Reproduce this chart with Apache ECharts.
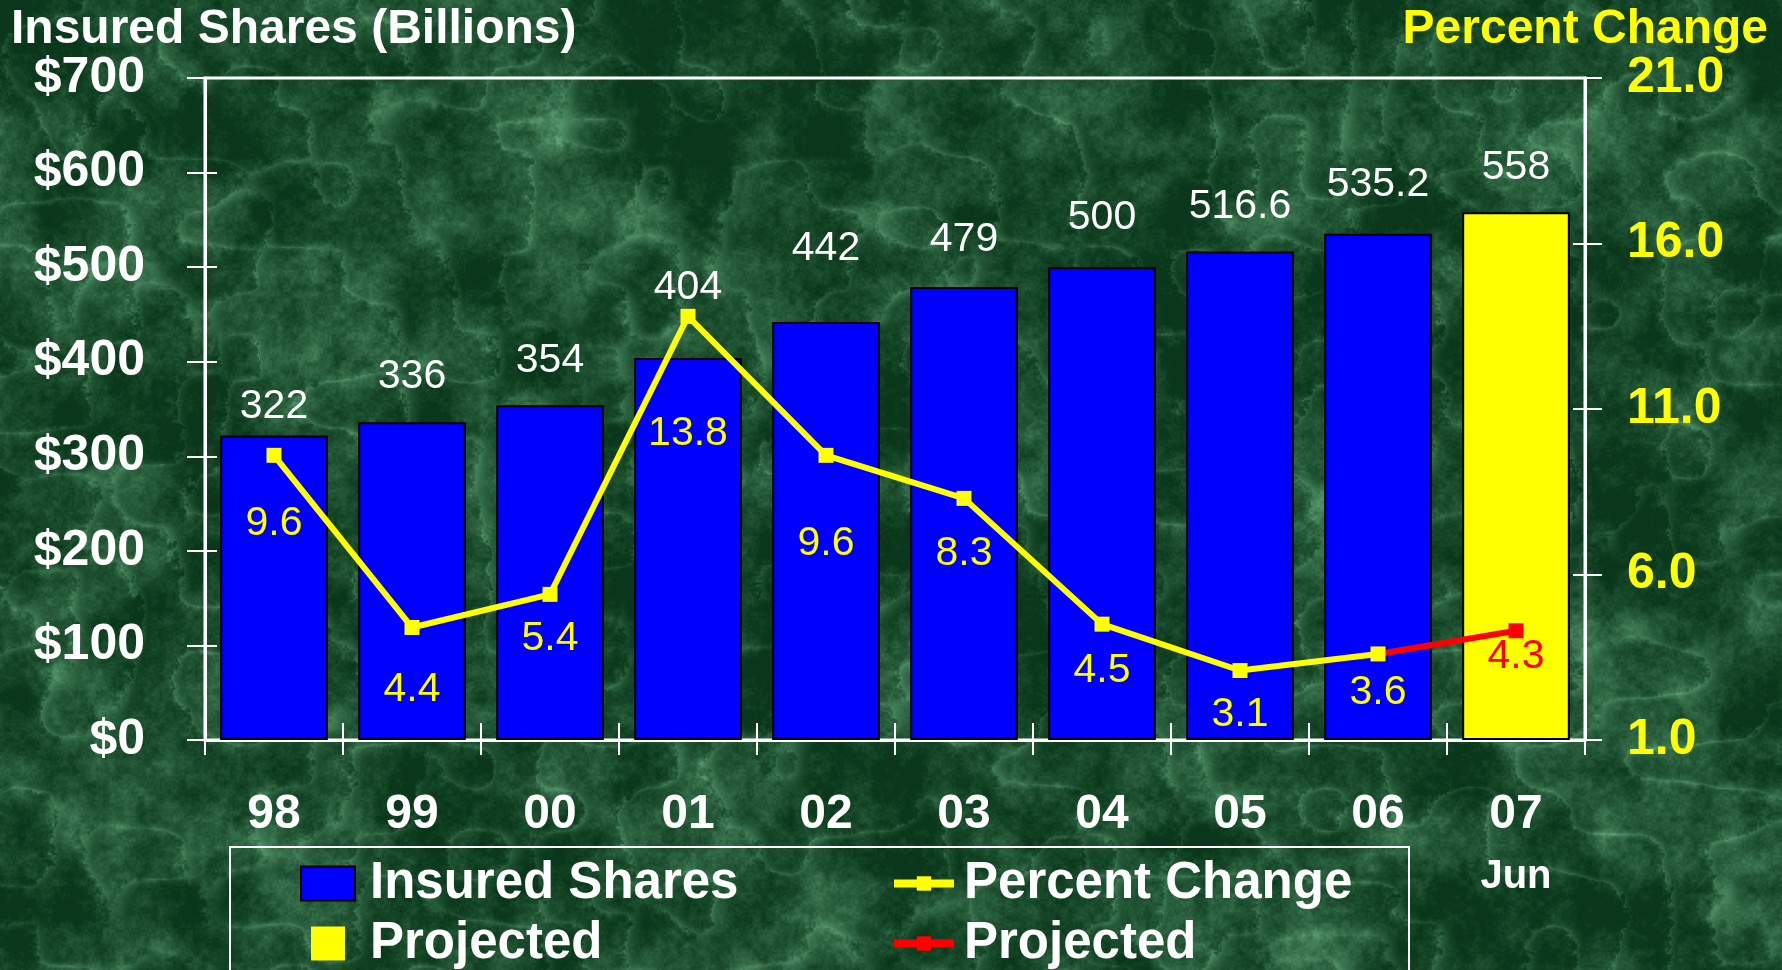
<!DOCTYPE html>
<html>
<head>
<meta charset="utf-8">
<title>Insured Shares</title>
<script src="https://cdn.jsdelivr.net/npm/echarts@6/dist/echarts.min.js"></script>
<style>
  html, body { margin: 0; padding: 0; background: #1f5a35; }
  #chart { width: 1782px; height: 970px; background-size: 100% 100%; }
</style>
</head>
<body>
<div id="chart"></div>
<script>
// chart data
const categories = ['98', '99', '00', '01', '02', '03', '04', '05', '06', '07'];
const categoryNotes = ['', '', '', '', '', '', '', '', '', 'Jun'];
const insuredShares = [322, 336, 354, 404, 442, 479, 500, 516.6, 535.2, null];
const projectedShares = [null, null, null, null, null, null, null, null, null, 558];
const percentChange = [9.6, 4.4, 5.4, 13.8, 9.6, 8.3, 4.5, 3.1, 3.6, null];
const projectedChange = [null, null, null, null, null, null, null, null, 3.6, 4.3];
const percentTicks = [1, 6, 11, 16, 21];

// label placement tweaks (px): bar labels above the bar top, percent labels below the point
const barLabelRise = [29, 46, 45, 70, 73, 47, 49, 45, 49, 45];
const pctLabelDrop = [68, 62, 44, 117, 88, 55, 47, 44, 39, 26];

const FONT = '"Liberation Sans", Arial, Helvetica, sans-serif';
const WHITE = '#ffffff';
const YELLOW = '#ffff00';

// green marble-ish backdrop, drawn once into a canvas
function marble(w, h) {
    const c = document.createElement('canvas');
    c.width = w; c.height = h;
    const ctx = c.getContext('2d');
    const img = ctx.createImageData(w, h);
    const hash = (x, y, s) => {
        let n = Math.imul(x, 374761393) ^ Math.imul(y, 668265263) ^ Math.imul(s, 1442695041);
        n = Math.imul(n ^ (n >>> 13), 1274126177);
        return ((n ^ (n >>> 16)) >>> 0) / 4294967296;
    };
    const noise = (x, y, s) => {
        const xi = Math.floor(x), yi = Math.floor(y);
        const fx = x - xi, fy = y - yi;
        const u = fx * fx * (3 - 2 * fx), v = fy * fy * (3 - 2 * fy);
        const a = hash(xi, yi, s), b = hash(xi + 1, yi, s);
        const d = hash(xi, yi + 1, s), e = hash(xi + 1, yi + 1, s);
        return a + (b - a) * u + (d - a) * v + (a - b - d + e) * u * v;
    };
    const dark = [10, 55, 27], light = [105, 175, 130];
    for (let y = 0; y < h; y++) {
        for (let x = 0; x < w; x++) {
            const n = 0.42 * noise(x / 70, y / 70, 1) + 0.26 * noise(x / 24, y / 24, 2)
                + 0.18 * noise(x / 7, y / 7, 3) + 0.14 * noise(x / 2.2, y / 2.2, 4);
            let r = 1 - Math.abs(2 * noise(x / 45 + n, y / 45, 5) - 1);
            r = Math.pow(r, 10);
            let t = (n - 0.32) * 1.15 + r * 0.3;
            t = Math.min(1, Math.max(0, t));
            t = Math.pow(t, 1.3);
            const k = (y * w + x) * 4;
            img.data[k] = dark[0] + (light[0] - dark[0]) * t;
            img.data[k + 1] = dark[1] + (light[1] - dark[1]) * t;
            img.data[k + 2] = dark[2] + (light[2] - dark[2]) * t;
            img.data[k + 3] = 255;
        }
    }
    ctx.putImageData(img, 0, 0);
    return c.toDataURL();
}

const el = document.getElementById('chart');
el.style.backgroundImage = 'url(' + marble(1782, 970) + ')';

const myChart = echarts.init(el, null, { renderer: 'canvas' });

const barLabel = {
    show: true, position: 'top', color: WHITE, fontFamily: FONT,
    fontSize: 41, lineHeight: 40
};
const tickStyle = { color: WHITE, width: 2 };

const option = {
    backgroundColor: 'transparent',
    animation: false,
    title: [
        {
            text: 'Insured Shares (Billions)', left: 11, top: 6, padding: 0,
            textStyle: { color: WHITE, fontFamily: FONT, fontSize: 48, fontWeight: 'bold', lineHeight: 48 }
        },
        {
            text: 'Percent Change', right: 14, top: 6, padding: 0,
            textStyle: { color: YELLOW, fontFamily: FONT, fontSize: 48, fontWeight: 'bold', lineHeight: 48 }
        }
    ],
    grid: {
        left: 205, right: 197, top: 78, bottom: 230,
        show: true, borderColor: WHITE, borderWidth: 3, backgroundColor: 'transparent'
    },
    legend: [
        {
            orient: 'vertical', left: 300, top: 858, padding: 0, itemGap: 9,
            itemWidth: 54, itemHeight: 34, selectedMode: false,
            formatter: name => name.indexOf('Projected') === 0 ? 'Projected' : name,
            textStyle: { color: WHITE, fontFamily: FONT, fontSize: 51, fontWeight: 'bold', lineHeight: 50, padding: [0, 0, 0, 10] },
            data: [
                { name: 'Insured Shares', icon: 'rect' },
                { name: 'Projected Shares', icon: 'path://M0,0H36V36H0Z', itemStyle: { borderWidth: 0 } }
            ]
        },
        {
            orient: 'vertical', left: 890, top: 858, padding: 0, itemGap: 9,
            itemWidth: 60, itemHeight: 18, selectedMode: false,
            lineStyle: { width: 8 },
            formatter: name => name.indexOf('Projected') === 0 ? 'Projected' : name,
            textStyle: { color: WHITE, fontFamily: FONT, fontSize: 51, fontWeight: 'bold', lineHeight: 50, padding: [0, 0, 0, 5] },
            data: ['Percent Change', 'Projected Change']
        }
    ],
    graphic: [
        {
            type: 'rect', silent: true,
            shape: { x: 230, y: 847, width: 1179, height: 200 },
            style: { fill: 'none', stroke: WHITE, lineWidth: 2 }
        }
    ],
    xAxis: [
        {
            type: 'category', data: categories, position: 'bottom',
            axisLine: { lineStyle: { color: WHITE, width: 3 } },
            axisTick: { show: true, length: 15, lineStyle: tickStyle },
            axisLabel: {
                margin: 51, interval: 0,
                formatter: (v, i) => categoryNotes[i] ? '{a|' + v + '}\n{b|' + categoryNotes[i] + '}' : '{a|' + v + '}',
                rich: {
                    a: { color: WHITE, fontFamily: FONT, fontSize: 48, fontWeight: 'bold', lineHeight: 48 },
                    b: { color: WHITE, fontFamily: FONT, fontSize: 40, fontWeight: 'bold', lineHeight: 76 }
                }
            },
            splitLine: { show: false }
        },
        {
            type: 'category', data: categories, position: 'bottom',
            axisLine: { show: false },
            axisTick: { show: true, inside: true, length: 17, lineStyle: tickStyle },
            axisLabel: { show: false },
            splitLine: { show: false }
        }
    ],
    yAxis: [
        {
            type: 'value', position: 'left', min: 0, max: 700, interval: 100,
            axisLine: { show: true, lineStyle: { color: WHITE, width: 3 } },
            axisTick: { show: true, length: 18, lineStyle: tickStyle },
            axisLabel: {
                margin: 60, color: WHITE, fontFamily: FONT, fontSize: 50, fontWeight: 'bold',
                formatter: v => '$' + v
            },
            splitLine: { show: false }
        },
        {
            type: 'value', position: 'right', min: 1, max: 21,
            axisLine: { show: true, lineStyle: { color: WHITE, width: 3 } },
            axisTick: { show: true, length: 17, lineStyle: tickStyle, customValues: percentTicks },
            axisLabel: {
                margin: 42, color: YELLOW, fontFamily: FONT, fontSize: 50, fontWeight: 'bold',
                customValues: percentTicks,
                formatter: v => Number(v).toFixed(1)
            },
            splitLine: { show: false }
        },
        {
            type: 'value', position: 'left', min: 0, max: 700, interval: 100,
            axisLine: { show: false },
            axisTick: { show: true, inside: true, length: 12, lineStyle: tickStyle },
            axisLabel: { show: false },
            splitLine: { show: false }
        },
        {
            type: 'value', position: 'right', min: 1, max: 21,
            axisLine: { show: false },
            axisTick: { show: true, inside: true, length: 12, lineStyle: tickStyle, customValues: percentTicks },
            axisLabel: { show: false, customValues: percentTicks },
            splitLine: { show: false }
        }
    ],
    series: [
        {
            name: 'Insured Shares', type: 'bar', barWidth: '78%', barGap: '-100%', z: 2,
            itemStyle: { color: '#0000ff', borderColor: '#000000', borderWidth: 2 },
            label: barLabel,
            data: insuredShares.map((v, i) => ({ value: v, label: { distance: barLabelRise[i] - 20 } }))
        },
        {
            name: 'Projected Shares', type: 'bar', barWidth: '78%', barGap: '-100%', z: 2,
            itemStyle: { color: YELLOW, borderColor: '#000000', borderWidth: 2 },
            label: barLabel,
            data: projectedShares.map((v, i) => ({ value: v, label: { distance: barLabelRise[i] - 20 } }))
        },
        {
            name: 'Projected Change', type: 'line', yAxisIndex: 1, z: 3,
            color: '#ff0000',
            lineStyle: { color: '#ff0000', width: 6 },
            itemStyle: { color: '#ff0000' },
            symbol: 'rect', symbolSize: 15,
            label: {
                show: true, position: 'inside', color: '#ff0000', fontFamily: FONT,
                fontSize: 41, lineHeight: 40
            },
            data: projectedChange.map((v, i) => ({
                value: v,
                symbol: i === 8 ? 'none' : 'rect',
                label: { show: i !== 8, offset: [0, pctLabelDrop[i]] }
            }))
        },
        {
            name: 'Percent Change', type: 'line', yAxisIndex: 1, z: 4,
            color: YELLOW,
            lineStyle: { color: YELLOW, width: 6 },
            itemStyle: { color: YELLOW },
            symbol: 'rect', symbolSize: 15,
            label: {
                show: true, position: 'inside', color: YELLOW, fontFamily: FONT,
                fontSize: 41, lineHeight: 40
            },
            data: percentChange.map((v, i) => ({ value: v, label: { offset: [0, pctLabelDrop[i]] } }))
        }
    ]
};

myChart.setOption(option);
</script>
</body>
</html>
